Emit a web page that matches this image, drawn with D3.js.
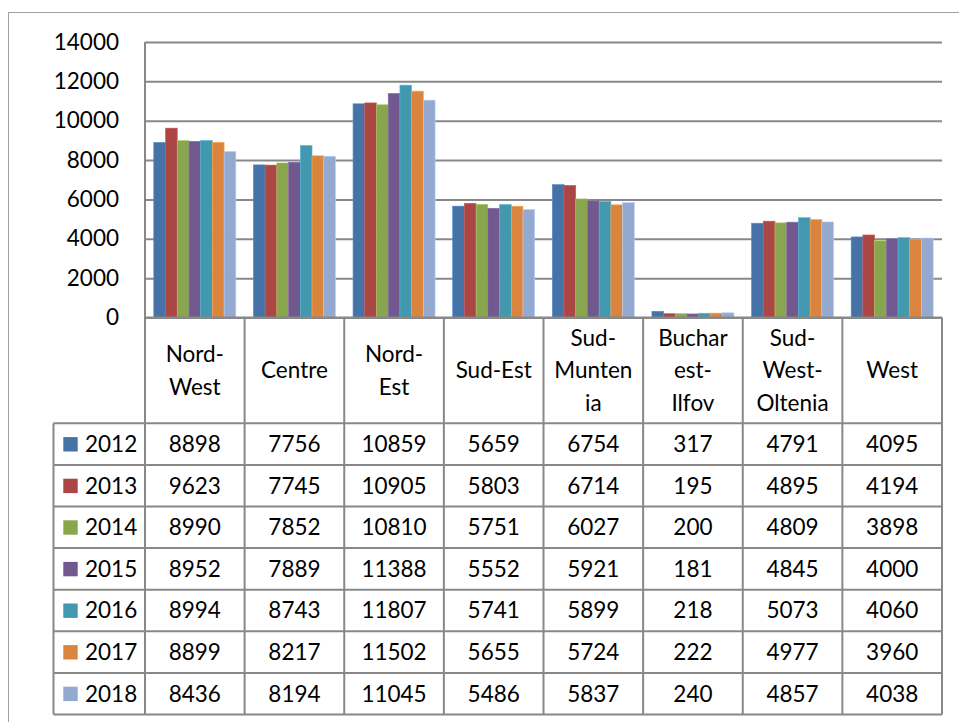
<!DOCTYPE html>
<html>
<head>
<meta charset="utf-8">
<script src="https://cdn.jsdelivr.net/npm/d3@7"></script>
<style>
  html, body { margin: 0; padding: 0; background: #fff; }
  svg { display: block; }
  text { font-family: Lato, "Open Sans", sans-serif; fill: #000; }
</style>
</head>
<body>
<svg id="chart" width="959" height="722"></svg>
<script>
// Regions (column headers, pre-wrapped the way the table cells wrap them)
const regions = ["Nord-West", "Centre", "Nord-Est", "Sud-Est", "Sud-Muntenia", "Bucharest-Ilfov", "Sud-West-Oltenia", "West"];
const regionLines = [["Nord-", "West"], ["Centre"], ["Nord-", "Est"], ["Sud-Est"], ["Sud-", "Munten", "ia"], ["Buchar", "est-", "Ilfov"], ["Sud-", "West-", "Oltenia"], ["West"]];
const years = ["2012", "2013", "2014", "2015", "2016", "2017", "2018"];

// Values per year, one entry per region
const v2012 = [8898, 7756, 10859, 5659, 6754, 317, 4791, 4095];
const v2013 = [9623, 7745, 10905, 5803, 6714, 195, 4895, 4194];
const v2014 = [8990, 7852, 10810, 5751, 6027, 200, 4809, 3898];
const v2015 = [8952, 7889, 11388, 5552, 5921, 181, 4845, 4000];
const v2016 = [8994, 8743, 11807, 5741, 5899, 218, 5073, 4060];
const v2017 = [8899, 8217, 11502, 5655, 5724, 222, 4977, 3960];
const v2018 = [8436, 8194, 11045, 5486, 5837, 240, 4857, 4038];

const yTicks = [0, 2000, 4000, 6000, 8000, 10000, 12000, 14000];
const colors = ["#4572A7", "#AA4643", "#89A54E", "#71588F", "#4198AF", "#DB843D", "#93A9CF"];

const seriesValues = [v2012, v2013, v2014, v2015, v2016, v2017, v2018];
const series = years.map((y, i) => ({ year: y, values: seriesValues[i], color: colors[i] }));

const svg = d3.select("#chart");
const gridColor = "#888888";
const fontSize = 22.5;

// Plot area geometry
const plot = { left: 145, right: 942, top: 42, bottom: 317.5 };
const headerBottom = 423.3;
const rowH = 41.6;
const legendLeft = 53.5;
const tableBottom = headerBottom + rowH * years.length;

// Chart frame
svg.append("rect")
  .attr("x", 8.5).attr("y", 12.5)
  .attr("width", 970).attr("height", 730)
  .attr("fill", "none").attr("stroke", "#a0a0a0").attr("stroke-width", 1);

const x0 = d3.scaleBand().domain(regions).range([plot.left, plot.right]).paddingInner(0).paddingOuter(0);
const x1 = d3.scaleBand().domain(years).range([0, x0.bandwidth()]).paddingInner(0).paddingOuter(0.75);
const y = d3.scaleLinear().domain([0, 14000]).range([plot.bottom, plot.top]);

// Horizontal gridlines + tick labels
const yAxis = d3.axisLeft(y).tickValues(yTicks).tickSize(-(plot.right - plot.left)).tickPadding(26).tickFormat(d3.format("d"));
const gy = svg.append("g").attr("transform", `translate(${plot.left},0)`).call(yAxis);
gy.select(".domain").remove();
gy.selectAll(".tick line").attr("stroke", gridColor).attr("stroke-width", 2);
gy.selectAll(".tick text")
  .attr("font-size", fontSize)
  .attr("font-family", "Lato, 'Open Sans', sans-serif")
  .attr("fill", "#000");

// Bars
const groups = svg.append("g").selectAll("g")
  .data(regions)
  .join("g")
  .attr("transform", d => `translate(${x0(d)},0)`);

groups.selectAll("rect")
  .data((d, ri) => series.map(s => ({ year: s.year, value: s.values[ri], color: s.color })))
  .join("rect")
  .attr("x", d => x1(d.year))
  .attr("width", x1.bandwidth())
  .attr("y", d => y(d.value))
  .attr("height", d => y(0) - y(d.value))
  .attr("fill", d => d.color)
  .attr("stroke", d => d3.color(d.color).brighter(0.6))
  .attr("stroke-width", 0.6);

// Data table grid
const lines = svg.append("g").attr("stroke", gridColor).attr("stroke-width", 2).attr("fill", "none");
// value axis line, continuing into the header
lines.append("line").attr("x1", plot.left).attr("x2", plot.left).attr("y1", plot.top).attr("y2", tableBottom);
// category separators
regions.forEach(r => {
  const xr = x0(r) + x0.bandwidth();
  lines.append("line").attr("x1", xr).attr("x2", xr).attr("y1", plot.bottom).attr("y2", tableBottom);
});
// header top (category axis)
lines.append("line").attr("x1", plot.left).attr("x2", plot.right).attr("y1", plot.bottom).attr("y2", plot.bottom);
// row lines
d3.range(years.length + 1).forEach(i => {
  const yy = headerBottom + i * rowH;
  lines.append("line").attr("x1", legendLeft).attr("x2", plot.right).attr("y1", yy).attr("y2", yy);
});
// legend column left edge
lines.append("line").attr("x1", legendLeft).attr("x2", legendLeft).attr("y1", headerBottom).attr("y2", tableBottom);

// Header labels
const lineGap = 32.5;
const headerMid = (plot.bottom + headerBottom) / 2;
regions.forEach((r, i) => {
  const parts = regionLines[i];
  const cx = x0(r) + x0.bandwidth() / 2;
  const t = svg.append("text")
    .attr("x", cx)
    .attr("text-anchor", "middle")
    .attr("font-size", fontSize);
  parts.forEach((p, k) => {
    t.append("tspan")
      .attr("x", cx)
      .attr("y", headerMid + (k - (parts.length - 1) / 2) * lineGap)
      .attr("dy", "0.35em")
      .text(p);
  });
});

// Table rows: legend key + values
series.forEach((s, i) => {
  const cy = headerBottom + i * rowH + rowH / 2;
  svg.append("rect")
    .attr("x", 63.3).attr("y", cy - 7)
    .attr("width", 14.4).attr("height", 14.4)
    .attr("fill", s.color);
  svg.append("text")
    .attr("x", 85).attr("y", cy).attr("dy", "0.35em")
    .attr("font-size", fontSize)
    .text(s.year);
  regions.forEach((r, ri) => {
    svg.append("text")
      .attr("x", x0(r) + x0.bandwidth() / 2)
      .attr("y", cy).attr("dy", "0.35em")
      .attr("text-anchor", "middle")
      .attr("font-size", fontSize)
      .text(s.values[ri]);
  });
});
</script>
</body>
</html>
